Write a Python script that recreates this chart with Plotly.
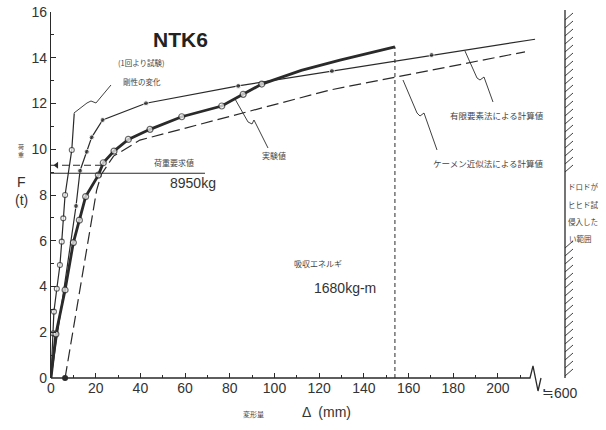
import plotly.graph_objects as go

# ---- data ----
steep_x = [0, 1.0, 1.3, 2.6, 4.0, 4.8, 5.5, 6.3, 9.3, 10.4]
steep_y = [0, 1.95, 2.9, 3.9, 4.94, 5.96, 6.98, 8.0, 9.97, 11.57]

fem_x = [0, 11.2, 13.0, 16.0, 18.2, 23.1, 42.5, 83.8, 125.7, 170.3, 216.6]
fem_y = [0, 7.52, 9.06, 9.89, 10.52, 11.28, 12.01, 12.77, 13.42, 14.12, 14.81]

exp_x = [0, 2.2, 6.3, 10.0, 12.7, 15.5, 21.2, 23.4, 28.2, 34.6, 44.3, 58.5, 76.4, 86.0, 94.3, 112.0, 129.3, 153.9]
exp_y = [0, 1.92, 3.85, 5.92, 6.9, 7.93, 8.87, 9.41, 9.92, 10.43, 10.87, 11.42, 11.89, 12.4, 12.85, 13.45, 13.9, 14.48]

kemen_x = [6.3, 20.4, 22.5, 28.0, 39.8, 84.6, 124.8, 212.1]
kemen_y = [0, 8.2, 8.9, 9.7, 10.4, 11.57, 12.59, 14.26]

req_load = 9.3        # 荷重要求値
req_load_end = 23.3
design_load = 8.95    # 8950kg
design_load_end = 68.9
energy_disp = 153.9   # end of experiment

x_ticks = [0, 20, 40, 60, 80, 100, 120, 140, 160, 180, 200]
y_ticks = [0, 2, 4, 6, 8, 10, 12, 14, 16]

INK = "#2a2a2a"
L, R, T, B = 51, 41, 12, 52
W, H = 606, 430
PW, PH = W - L - R, H - T - B


def P(px, py):
    return (px - L) / PW, (H - B - py) / PH


def path(points):
    s = ""
    for i, (px, py) in enumerate(points):
        x, y = P(px, py)
        s += ("M" if i == 0 else "L") + f"{x:.4f},{y:.4f} "
    return s.strip()


fig = go.Figure()


def msizes(n, first=True, last=True, size=6):
    s = [size] * n
    if first:
        s[0] = 0
    if last:
        s[-1] = 0
    return s


fig.add_trace(go.Scatter(x=steep_x, y=steep_y, mode="lines+markers",
                         line=dict(color=INK, width=1.2),
                         marker=dict(symbol="circle", color="white", size=msizes(len(steep_x), size=5),
                                     line=dict(color=INK, width=1.1))))
fig.add_trace(go.Scatter(x=fem_x, y=fem_y, mode="lines+markers",
                         line=dict(color=INK, width=1.2),
                         marker=dict(symbol="circle", color=INK, size=msizes(len(fem_x), size=5))))
fig.add_trace(go.Scatter(x=kemen_x, y=kemen_y, mode="lines",
                         line=dict(color=INK, width=1.2, dash="12px,5px")))
fig.add_trace(go.Scatter(x=exp_x, y=exp_y, mode="lines+markers",
                         line=dict(color=INK, width=2.8),
                         marker=dict(symbol="circle", color="white",
                                     size=[0] + [6] * 14 + [0, 0, 0],
                                     line=dict(color=INK, width=1.2))))
fig.add_trace(go.Scatter(x=[0, req_load_end], y=[req_load, req_load], mode="lines",
                         line=dict(color=INK, width=1.0, dash="7px,4px")))
fig.add_trace(go.Scatter(x=[2.5], y=[req_load], mode="markers",
                         marker=dict(symbol="triangle-left", color=INK, size=6)))
fig.add_trace(go.Scatter(x=[0, design_load_end], y=[design_load, design_load], mode="lines",
                         line=dict(color=INK, width=1.2)))
fig.add_trace(go.Scatter(x=[energy_disp, energy_disp], y=[0, exp_y[-1]], mode="lines",
                         line=dict(color=INK, width=1.0, dash="4px,3px")))
fig.add_trace(go.Scatter(x=[kemen_x[0]], y=[kemen_y[0]], mode="markers", cliponaxis=False,
                         marker=dict(symbol="circle", color=INK, size=6)))

shapes = []
# x axis line with break
shapes.append(dict(type="path", xref="paper", yref="paper",
                   path=path([(51, 378), (530, 378), (533, 366), (538, 391), (541, 378)]),
                   line=dict(color=INK, width=1.3)))
# wall
shapes.append(dict(type="line", xref="paper", yref="paper",
                   x0=P(565, 10)[0], y0=P(565, 10)[1], x1=P(565, 378)[0], y1=P(565, 378)[1],
                   line=dict(color=INK, width=1.3)))
for yy in list(range(20, 176, 8)) + list(range(248, 380, 8)):
    x0, y0 = P(565, yy)
    x1, y1 = P(573, yy - 7)
    shapes.append(dict(type="line", xref="paper", yref="paper", x0=x0, y0=y0, x1=x1, y1=y1,
                       line=dict(color=INK, width=0.9)))
# leader lines
for pts in [
    [(74, 113), (87, 103), (91, 101), (96, 103), (111, 85)],
    [(235, 99), (248, 122), (252, 124), (254, 120), (268, 148)],
    [(465, 51), (477, 78), (480, 80), (484, 77), (493, 102)],
    [(403, 80), (417, 113), (420, 116), (424, 113), (437, 150)],
]:
    shapes.append(dict(type="path", xref="paper", yref="paper", path=path(pts),
                       line=dict(color=INK, width=0.9)))

ann = []


def text(px, py, s, size, family="Noto Sans CJK JP", color="#444", bold=False, xanchor="center"):
    x, y = P(px, py)
    ann.append(dict(x=x, y=y, xref="paper", yref="paper", text=(f"<b>{s}</b>" if bold else s),
                    showarrow=False, xanchor=xanchor, yanchor="middle",
                    font=dict(family=family, size=size, color=color)))


NUM = "Liberation Sans"
text(180, 40, "NTK6", 21, family=NUM, color="#222", bold=True)
text(141, 62, "(1回より試験)", 7.5)
text(142, 81, "剛性の変化", 7.5)
text(174, 162, "荷重要求値", 8)
text(193, 183, "8950kg", 14, family=NUM, color="#333")
text(274, 155, "実験値", 8)
text(497, 115, "有限要素法による計算値", 8.5)
text(488, 163, "ケーメン近似法による計算値", 8.5)
text(583, 186, "ドロドが", 7.5)
text(583, 204, "ヒヒド試", 7.5)
text(583, 221, "侵入した", 7.5)
text(580, 238, "い範囲", 7.5)
text(318, 263, "吸収エネルギ", 8)
text(345, 288, "1680kg-m", 14, family=NUM, color="#333")
text(21, 150, "荷<br>重", 6)
text(21, 182, "F", 14, family=NUM, color="#333")
text(21, 200, "(t)", 14, family=NUM, color="#333")
text(253, 414, "変形量", 7)
text(326, 412, "Δ  (mm)", 14, family=NUM, color="#333")
text(560, 393, "≒600", 14, family=NUM, color="#333")

fig.update_layout(
    width=W, height=H, margin=dict(l=L, r=R, t=T, b=B, autoexpand=False),
    paper_bgcolor="white", plot_bgcolor="white", showlegend=False,
    shapes=shapes, annotations=ann,
    xaxis=dict(range=[0, 230], tickvals=x_ticks, ticks="inside", ticklen=5, tickcolor=INK,
               showline=False, showgrid=False, zeroline=False, automargin=False,
               tickfont=dict(family=NUM, size=14, color="#333"),
               minor=dict(tickvals=[10, 30, 50, 70, 90, 110, 130, 150, 170, 190, 210],
                          ticks="inside", ticklen=3, tickcolor=INK)),
    yaxis=dict(range=[0, 16], tickvals=y_ticks, ticks="inside", ticklen=5, tickcolor=INK,
               showline=True, linecolor=INK, linewidth=1.3, showgrid=False, zeroline=False,
               automargin=False,
               tickfont=dict(family=NUM, size=14, color="#333"),
               minor=dict(tickvals=[1, 3, 5, 7, 9, 11, 13, 15], ticks="inside", ticklen=3, tickcolor=INK)),
)

fig.write_html("out.html", config={"displayModeBar": False},
               post_script="document.body.style.margin='0';document.body.style.padding='0';")
